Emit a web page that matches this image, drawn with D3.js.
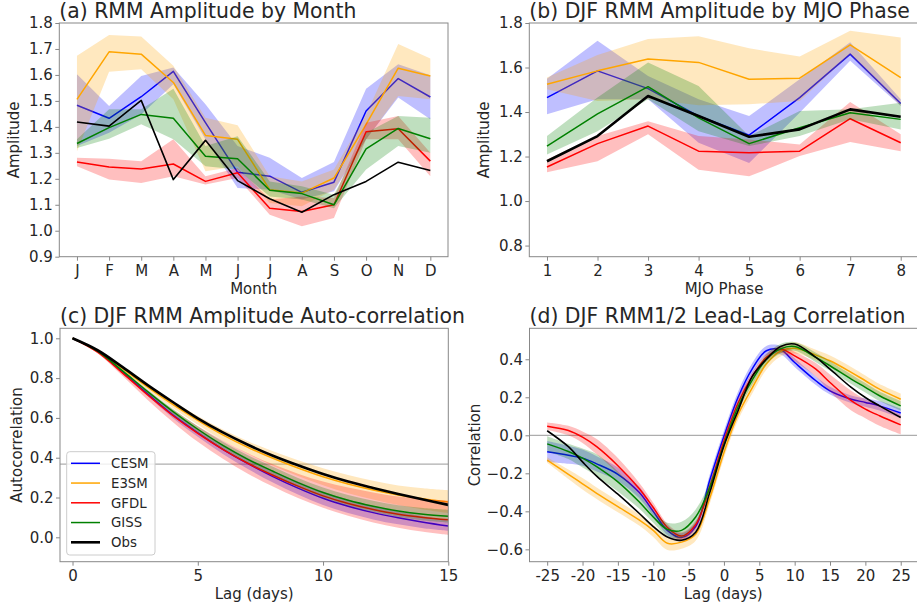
<!DOCTYPE html>
<html>
<head>
<meta charset="utf-8">
<script src="https://cdn.jsdelivr.net/npm/d3@7"></script>
<style>
  body { margin: 0; background: #fff; }
  text { font-family: "DejaVu Sans", sans-serif; fill: #262626; }
</style>
</head>
<body>
<div id="chart"></div>
<script>
// ---- data ----
const models = ["CESM", "E3SM", "GFDL", "GISS"];
const colors = { CESM: "blue", E3SM: "orange", GFDL: "red", GISS: "green", Obs: "black" };

// (a) amplitude by month
const months = ["J","F","M","A","M","J","J","A","S","O","N","D"];
const monCESM   = [1.483,1.433,1.516,1.614,1.416,1.225,1.21,1.148,1.187,1.461,1.586,1.515];
const monCESMlo = [1.326,1.377,1.448,1.564,1.352,1.165,1.158,1.12,1.152,1.352,1.513,1.429];
const monCESMhi = [1.603,1.48,1.596,1.629,1.487,1.326,1.281,1.203,1.265,1.547,1.641,1.599];
const monE3SM   = [1.506,1.689,1.68,1.571,1.367,1.352,1.158,1.145,1.203,1.41,1.626,1.596];
const monE3SMlo = [1.306,1.612,1.622,1.506,1.229,1.248,1.107,1.094,1.158,1.352,1.519,1.506];
const monE3SMhi = [1.674,1.754,1.748,1.635,1.435,1.406,1.21,1.19,1.236,1.448,1.719,1.663];
const monGFDL   = [1.265,1.245,1.238,1.257,1.19,1.223,1.087,1.074,1.1,1.381,1.393,1.268];
const monGFDLlo = [1.248,1.197,1.184,1.21,1.178,1.203,1.062,1.017,1.049,1.352,1.352,1.21];
const monGFDLhi = [1.281,1.277,1.268,1.352,1.21,1.242,1.12,1.132,1.126,1.416,1.442,1.3];
const monGISS   = [1.336,1.397,1.448,1.433,1.287,1.277,1.156,1.143,1.1,1.315,1.394,1.354];
const monGISSlo = [1.319,1.354,1.41,1.352,1.248,1.236,1.132,1.12,1.087,1.236,1.326,1.3];
const monGISShi = [1.352,1.468,1.468,1.547,1.326,1.364,1.19,1.171,1.139,1.377,1.442,1.435];
const monObs    = [1.419,1.403,1.502,1.197,1.348,1.193,1.123,1.071,1.139,1.19,1.264,1.232];

// (b) DJF amplitude by MJO phase
const phases = [1,2,3,4,5,6,7,8];
const phCESM   = [1.465,1.585,1.505,1.382,1.296,1.465,1.66,1.438];
const phCESMlo = [1.39,1.457,1.457,1.262,1.171,1.397,1.63,1.427];
const phCESMhi = [1.55,1.72,1.562,1.457,1.382,1.547,1.713,1.457];
const phE3SM   = [1.525,1.585,1.638,1.623,1.547,1.552,1.702,1.555];
const phE3SMlo = [1.502,1.45,1.457,1.43,1.435,1.45,1.66,1.427];
const phE3SMhi = [1.555,1.656,1.728,1.74,1.686,1.65,1.765,1.735];
const phGFDL   = [1.153,1.258,1.337,1.224,1.217,1.224,1.37,1.262];
const phGFDLlo = [1.129,1.179,1.3,1.141,1.111,1.202,1.265,1.224];
const phGFDLhi = [1.187,1.292,1.359,1.292,1.277,1.254,1.445,1.3];
const phGISS   = [1.247,1.392,1.514,1.374,1.258,1.329,1.397,1.367];
const phGISSlo = [1.209,1.314,1.457,1.314,1.247,1.292,1.367,1.322];
const phGISShi = [1.292,1.465,1.623,1.517,1.292,1.405,1.412,1.442];
const phObs    = [1.179,1.292,1.472,1.382,1.289,1.322,1.412,1.379];

// (c) DJF amplitude auto-correlation
const acLags = [0,1,2,3,4,5,6,7,8,9,10,11,12,13,14,15];
const acCESM   = [1.0,0.935,0.83,0.72,0.615,0.525,0.442,0.37,0.305,0.247,0.196,0.156,0.124,0.098,0.076,0.057];
const acCESMlo = [1.0,0.933,0.825,0.71,0.6,0.505,0.418,0.343,0.275,0.215,0.162,0.122,0.09,0.065,0.046,0.033];
const acCESMhi = [1.0,0.937,0.836,0.73,0.63,0.545,0.466,0.397,0.335,0.28,0.23,0.19,0.157,0.13,0.106,0.085];
const acE3SM   = [1.0,0.938,0.848,0.755,0.668,0.588,0.515,0.452,0.397,0.348,0.304,0.268,0.238,0.213,0.194,0.178];
const acE3SMlo = [1.0,0.935,0.84,0.742,0.65,0.565,0.487,0.42,0.36,0.308,0.262,0.222,0.19,0.162,0.14,0.122];
const acE3SMhi = [1.0,0.942,0.856,0.768,0.685,0.61,0.542,0.483,0.432,0.387,0.347,0.313,0.284,0.26,0.247,0.237];
const acGFDL   = [1.0,0.93,0.825,0.715,0.612,0.522,0.442,0.372,0.312,0.257,0.208,0.17,0.14,0.116,0.1,0.088];
const acGFDLlo = [1.0,0.925,0.81,0.69,0.58,0.48,0.395,0.32,0.255,0.197,0.148,0.108,0.075,0.048,0.028,0.012];
const acGFDLhi = [1.0,0.935,0.838,0.738,0.642,0.558,0.487,0.422,0.367,0.32,0.28,0.25,0.225,0.205,0.193,0.185];
const acGISS   = [1.0,0.935,0.836,0.732,0.633,0.543,0.462,0.392,0.332,0.275,0.225,0.186,0.156,0.132,0.116,0.106];
const acGISSlo = [1.0,0.933,0.83,0.722,0.62,0.528,0.445,0.373,0.31,0.252,0.2,0.16,0.128,0.103,0.085,0.074];
const acGISShi = [1.0,0.937,0.842,0.742,0.646,0.558,0.48,0.412,0.354,0.298,0.25,0.212,0.184,0.161,0.147,0.138];
const acObs    = [1.0,0.94,0.855,0.765,0.68,0.598,0.527,0.465,0.41,0.362,0.318,0.28,0.248,0.218,0.19,0.163];

// (d) DJF RMM1/2 lead-lag correlation
const llLags = [-25,-22,-20,-18,-15,-12,-10,-8,-6,-4,-2,0,2,4,6,8,10,13,15,18,20,22,25];
const llCESM   = [-0.087,-0.105,-0.12,-0.15,-0.205,-0.3,-0.4,-0.5,-0.538,-0.48,-0.235,-0.005,0.2,0.35,0.445,0.45,0.383,0.287,0.234,0.19,0.173,0.155,0.117];
const llCESMlo = [-0.14,-0.15,-0.16,-0.19,-0.24,-0.33,-0.425,-0.525,-0.56,-0.505,-0.265,-0.035,0.17,0.32,0.42,0.425,0.36,0.265,0.215,0.17,0.15,0.13,0.09];
const llCESMhi = [-0.03,-0.055,-0.075,-0.11,-0.17,-0.27,-0.375,-0.475,-0.515,-0.455,-0.205,0.025,0.23,0.38,0.47,0.47,0.405,0.31,0.255,0.21,0.195,0.18,0.14];
const llE3SM   = [-0.13,-0.205,-0.255,-0.305,-0.375,-0.445,-0.5,-0.568,-0.562,-0.52,-0.33,-0.09,0.11,0.25,0.375,0.443,0.458,0.422,0.392,0.331,0.287,0.243,0.19];
const llE3SMlo = [-0.145,-0.23,-0.285,-0.335,-0.405,-0.475,-0.535,-0.603,-0.597,-0.555,-0.36,-0.12,0.08,0.22,0.345,0.415,0.43,0.395,0.365,0.3,0.255,0.21,0.16];
const llE3SMhi = [-0.115,-0.18,-0.225,-0.275,-0.345,-0.415,-0.47,-0.533,-0.527,-0.485,-0.3,-0.06,0.14,0.28,0.4,0.47,0.49,0.45,0.42,0.36,0.315,0.27,0.22];
const llGFDL   = [0.048,0.025,-0.01,-0.06,-0.16,-0.28,-0.38,-0.485,-0.53,-0.47,-0.27,-0.03,0.17,0.31,0.41,0.453,0.418,0.348,0.278,0.182,0.138,0.103,0.055];
const llGFDLlo = [0.028,0.0,-0.04,-0.1,-0.2,-0.31,-0.405,-0.505,-0.55,-0.49,-0.29,-0.055,0.145,0.29,0.39,0.435,0.39,0.31,0.23,0.13,0.09,0.05,0.005];
const llGFDLhi = [0.068,0.05,0.02,-0.02,-0.12,-0.25,-0.355,-0.465,-0.51,-0.45,-0.25,-0.005,0.195,0.33,0.43,0.47,0.44,0.38,0.32,0.235,0.19,0.16,0.11];
const llGISS   = [-0.045,-0.085,-0.12,-0.165,-0.245,-0.35,-0.43,-0.495,-0.5,-0.43,-0.275,-0.05,0.15,0.29,0.4,0.455,0.467,0.41,0.366,0.296,0.252,0.208,0.155];
const llGISSlo = [-0.085,-0.125,-0.17,-0.215,-0.295,-0.385,-0.46,-0.53,-0.54,-0.465,-0.305,-0.075,0.125,0.265,0.375,0.43,0.445,0.385,0.34,0.27,0.225,0.18,0.13];
const llGISShi = [-0.005,-0.045,-0.07,-0.1,-0.19,-0.31,-0.4,-0.46,-0.455,-0.39,-0.245,-0.025,0.175,0.315,0.425,0.48,0.49,0.435,0.39,0.32,0.275,0.23,0.18];
const llObs    = [0.024,-0.06,-0.14,-0.215,-0.31,-0.41,-0.48,-0.535,-0.552,-0.51,-0.3,-0.055,0.13,0.31,0.4,0.467,0.48,0.41,0.348,0.252,0.199,0.155,0.094];

// ---- drawing ----
const W = 917, H = 608;
const svg = d3.select("#chart").append("svg")
    .attr("width", W).attr("height", H)
    .style("background", "#fff");

function series(xs, name, y, lo, hi, lw) {
    return { name: name, pts: xs.map((x, i) => ({ x: x, y: y[i], lo: lo ? lo[i] : null, hi: hi ? hi[i] : null })), lw: lw };
}

let clipId = 0;
function drawPanel(o) {
    const g = svg.append("g");
    const x = d3.scaleLinear().domain(o.xd).range([o.left, o.right]);
    const y = d3.scaleLinear().domain(o.yd).range([o.bottom, o.top]);
    const id = "clip" + (clipId++);
    g.append("clipPath").attr("id", id).append("rect")
        .attr("x", o.left).attr("y", o.top)
        .attr("width", o.right - o.left).attr("height", o.bottom - o.top);
    const plot = g.append("g").attr("clip-path", `url(#${id})`);

    if (o.hline != null) {
        plot.append("line")
            .attr("x1", o.left).attr("x2", o.right)
            .attr("y1", y(o.hline)).attr("y2", y(o.hline))
            .attr("stroke", "#999").attr("stroke-width", 1);
    }

    const curve = o.smooth ? d3.curveCatmullRom.alpha(0.5) : d3.curveLinear;
    const area = d3.area().x(d => x(d.x)).y0(d => y(d.lo)).y1(d => y(d.hi)).curve(curve);
    const line = d3.line().x(d => x(d.x)).y(d => y(d.y)).curve(curve);

    o.series.forEach(s => {
        if (s.pts[0].lo != null) {
            plot.append("path").datum(s.pts).attr("d", area)
                .attr("fill", colors[s.name]).attr("fill-opacity", 0.25).attr("stroke", "none");
        }
        plot.append("path").datum(s.pts).attr("d", line)
            .attr("fill", "none").attr("stroke", colors[s.name])
            .attr("stroke-width", s.lw || 1.5).attr("stroke-linejoin", "round");
    });

    // axes
    const xa = d3.axisBottom(x).tickValues(o.xticks).tickSize(4).tickPadding(5).tickSizeOuter(0);
    if (o.xfmt) xa.tickFormat(o.xfmt);
    const ya = d3.axisLeft(y).tickValues(o.yticks).tickSize(4).tickPadding(2.5).tickSizeOuter(0).tickFormat(o.yfmt);
    const gx = g.append("g").attr("transform", `translate(0,${o.bottom})`).call(xa);
    const gy = g.append("g").attr("transform", `translate(${o.left},0)`).call(ya);
    [gx, gy].forEach(a => {
        a.select(".domain").remove();
        a.selectAll(".tick line").attr("stroke", "#888");
        a.selectAll(".tick text").attr("font-size", 15).attr("fill", "#262626")
            .attr("font-family", "DejaVu Sans, sans-serif");
    });

    g.append("rect")
        .attr("x", o.left).attr("y", o.top)
        .attr("width", o.right - o.left).attr("height", o.bottom - o.top)
        .attr("fill", "none").attr("stroke", "#888").attr("stroke-width", 1);

    g.append("text").attr("x", o.left).attr("y", o.top - 5)
        .attr("font-size", 20.4).text(o.title);
    g.append("text").attr("x", (o.left + Math.min(o.right, W)) / 2 + (o.xlabShift || 0))
        .attr("y", o.bottom + 37).attr("text-anchor", "middle")
        .attr("font-size", 15).text(o.xlab);
    g.append("text")
        .attr("transform", `translate(${o.left - o.ylabOff},${(o.top + o.bottom) / 2}) rotate(-90)`)
        .attr("text-anchor", "middle").attr("font-size", 15).text(o.ylab);
    return { g: g, x: x, y: y };
}

const f1 = d3.format(".1f");
const fMinus = d => f1(d).replace("-", "\u2212");

const S = (xs, pre, obsW) => {
    const src = {
        mon: [monCESM, monCESMlo, monCESMhi, monE3SM, monE3SMlo, monE3SMhi, monGFDL, monGFDLlo, monGFDLhi, monGISS, monGISSlo, monGISShi, monObs],
        ph: [phCESM, phCESMlo, phCESMhi, phE3SM, phE3SMlo, phE3SMhi, phGFDL, phGFDLlo, phGFDLhi, phGISS, phGISSlo, phGISShi, phObs],
        ac: [acCESM, acCESMlo, acCESMhi, acE3SM, acE3SMlo, acE3SMhi, acGFDL, acGFDLlo, acGFDLhi, acGISS, acGISSlo, acGISShi, acObs],
        ll: [llCESM, llCESMlo, llCESMhi, llE3SM, llE3SMlo, llE3SMhi, llGFDL, llGFDLlo, llGFDLhi, llGISS, llGISSlo, llGISShi, llObs]
    }[pre];
    const out = models.map((m, i) => series(xs, m, src[i * 3], src[i * 3 + 1], src[i * 3 + 2], 1.5));
    out.push(series(xs, "Obs", src[12], null, null, obsW));
    return out;
};

const monIdx = months.map((m, i) => i);

drawPanel({
    left: 59.3, right: 448, top: 23, bottom: 256.7,
    xd: [-0.55, 11.55], yd: [0.9, 1.8],
    xticks: monIdx, xfmt: i => months[i],
    yticks: d3.range(9, 19).map(v => v / 10), yfmt: f1,
    series: S(monIdx, "mon", 1.6),
    title: "(a) RMM Amplitude by Month", xlab: "Month", ylab: "Amplitude", ylabOff: 40
});

drawPanel({
    left: 529.3, right: 918.4, top: 23, bottom: 256.7,
    xd: [0.65, 8.35], yd: [0.75, 1.8],
    xticks: phases, xfmt: d3.format("d"),
    yticks: [0.8, 1.0, 1.2, 1.4, 1.6, 1.8], yfmt: f1,
    series: S(phases, "ph", 2.6),
    title: "(b) DJF RMM Amplitude by MJO Phase", xlab: "MJO Phase", ylab: "Amplitude", ylabOff: 40,
    xlabShift: 0.9
});

drawPanel({
    left: 60, right: 448.3, top: 328.3, bottom: 561.7,
    xd: [-0.5, 15], yd: [-0.1226, 1.0503],
    xticks: [0, 5, 10, 15], xfmt: d3.format("d"),
    yticks: [0, 0.2, 0.4, 0.6, 0.8, 1.0], yfmt: f1,
    series: S(acLags, "ac", 2.6), smooth: true, hline: 1 / Math.E,
    title: "(c) DJF RMM Amplitude Auto-correlation", xlab: "Lag (days)", ylab: "Autocorrelation", ylabOff: 38
});

drawPanel({
    left: 529.5, right: 918.4, top: 328.3, bottom: 561.7,
    xd: [-27.5, 27.5], yd: [-0.665, 0.563],
    xticks: d3.range(-25, 26, 5), xfmt: d => String(d),
    yticks: [-0.6, -0.4, -0.2, 0, 0.2, 0.4], yfmt: fMinus,
    series: S(llLags, "ll", 1.6), smooth: true, hline: 0,
    title: "(d) DJF RMM1/2 Lead-Lag Correlation", xlab: "Lag (days)", ylab: "Correlation", ylabOff: 50
});

// legend in panel (c)
const names = models.concat(["Obs"]);
const lg = svg.append("g").attr("transform", "translate(66.7,451.7)");
lg.append("rect").attr("width", 88.3).attr("height", 103.3).attr("rx", 3)
    .attr("fill", "#fff").attr("fill-opacity", 0.8).attr("stroke", "#ccc");
names.forEach((n, i) => {
    const yy = 11.6 + i * 19.75;
    lg.append("line").attr("x1", 4.3).attr("x2", 33.3).attr("y1", yy).attr("y2", yy)
        .attr("stroke", colors[n]).attr("stroke-width", n === "Obs" ? 2.6 : 1.5);
    lg.append("text").attr("x", 44.3).attr("y", yy + 4.8)
        .attr("font-size", 13.3).text(n);
});
</script>
</body>
</html>
